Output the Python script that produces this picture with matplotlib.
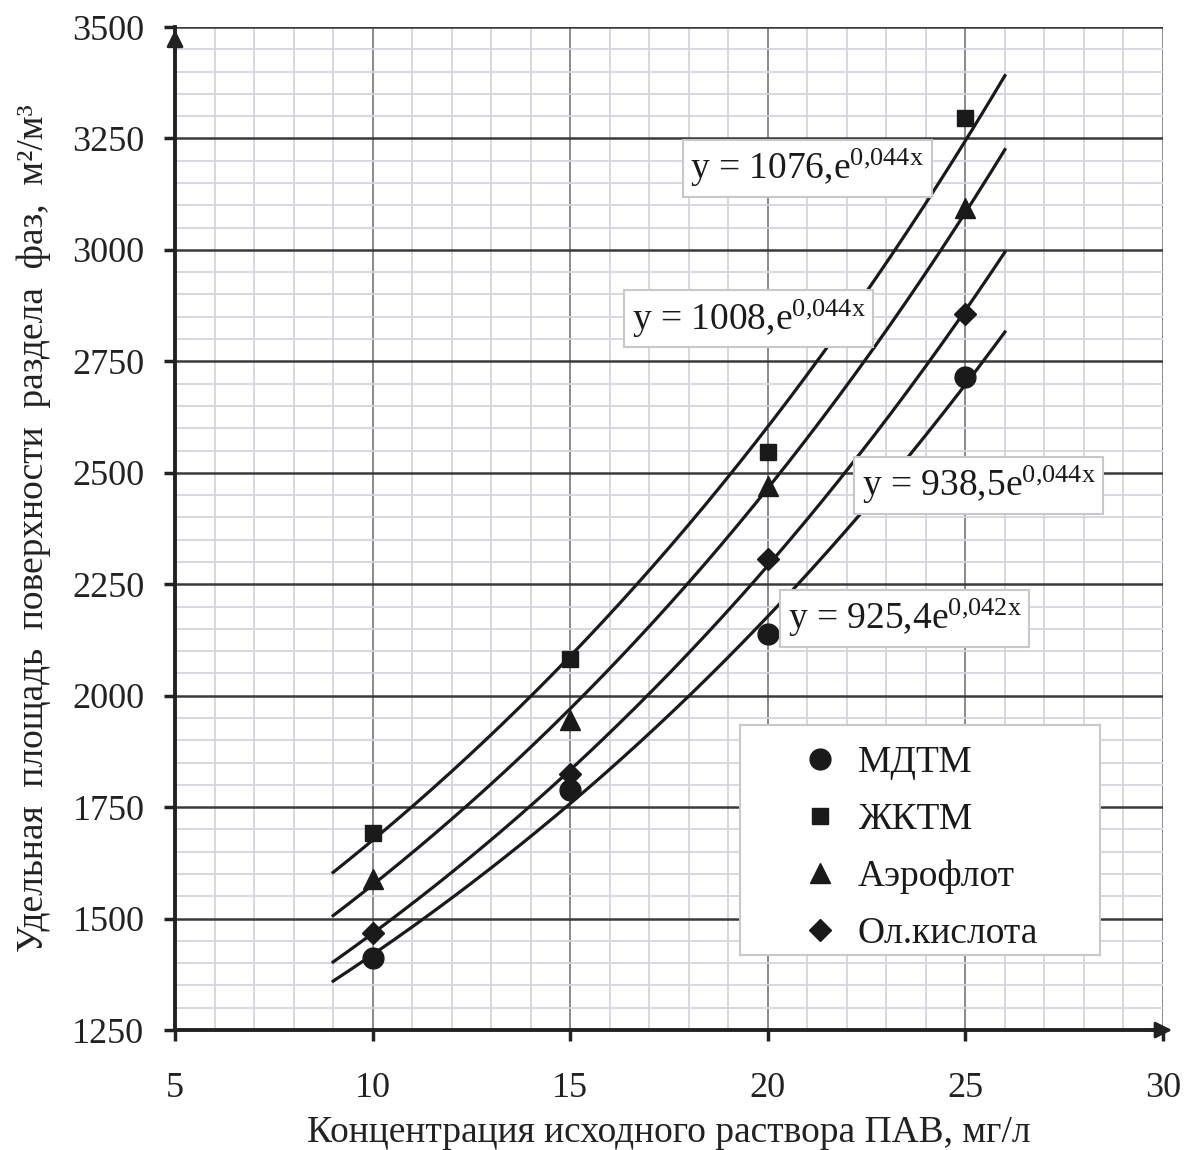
import numpy as np
import matplotlib
matplotlib.use("Agg")
import matplotlib.pyplot as plt
from matplotlib.ticker import MultipleLocator
from matplotlib.patches import Rectangle

plt.rcParams['font.family'] = ['Liberation Serif', 'DejaVu Serif']
plt.rcParams['mathtext.fontset'] = 'custom'
plt.rcParams['mathtext.rm'] = 'Liberation Serif'
plt.rcParams['mathtext.it'] = 'Liberation Serif'

# Data
x = [10, 15, 20, 25]
series_names = ['МДТМ', 'ЖКТМ', 'Аэрофлот', 'Ол.кислота']
mdtm = [1412, 1788, 2138, 2716]
zhktm = [1692, 2082, 2546, 3297]
aeroflot = [1588, 1946, 2470, 3093]
ol_kislota = [1468, 1825, 2307, 2856]
markers = ['o', 's', '^', 'D']
marker_sizes = [15, 12, 15, 11]

# Trend equation labels shown on the chart
fit_labels = ['y = 925,4e$^{\\mathrm{0{,}042x}}$',
              'y = 1076,e$^{\\mathrm{0{,}044x}}$',
              'y = 1008,e$^{\\mathrm{0{,}044x}}$',
              'y = 938,5e$^{\\mathrm{0{,}044x}}$']
label_pos = [(23.47, 2174), (21.0, 3183), (19.52, 2846), (25.34, 2472)]
trend_x_range = (9, 26)

x_ticks = [5, 10, 15, 20, 25, 30]
y_ticks = [1250, 1500, 1750, 2000, 2250, 2500, 2750, 3000, 3250, 3500]

fig = plt.figure(figsize=(11.94, 11.5), dpi=100)
ax = fig.add_axes([0.1466, 0.1043, 0.8274, 0.8722])
ax.set_xlim(5, 30)
ax.set_ylim(1250, 3500)

ax.xaxis.set_minor_locator(MultipleLocator(1))
ax.yaxis.set_minor_locator(MultipleLocator(50))
ax.set_xticks(x_ticks)
ax.set_yticks(y_ticks)

ax.grid(which='minor', color='#d2d5de', lw=1.3, zorder=0)
ax.xaxis.grid(True, which='major', color='#8a8a8a', lw=1.4, zorder=0)
ax.yaxis.grid(True, which='major', color='#3a3a3a', lw=1.8, zorder=0)
ax.set_axisbelow(True)

for s in ['top', 'right']:
    ax.spines[s].set_visible(False)
for s in ['left', 'bottom']:
    ax.spines[s].set_linewidth(2.8)
    ax.spines[s].set_color('#222222')

ax.tick_params(which='major', length=8, width=2.5, colors='#222222', labelsize=26, pad=14)
ax.tick_params(which='minor', length=0)
ax.tick_params(axis='x', pad=22)

# arrows
ax.annotate('', xy=(0, 1.0), xycoords='axes fraction', xytext=(0, 0.97),
            arrowprops=dict(arrowstyle='-|>', color='#222222', lw=2, mutation_scale=25))
ax.annotate('', xy=(1.012, 0), xycoords='axes fraction', xytext=(0.98, 0),
            arrowprops=dict(arrowstyle='-|>', color='#222222', lw=2, mutation_scale=25),
            annotation_clip=False)

all_series = [mdtm, zhktm, aeroflot, ol_kislota]
xs = np.linspace(trend_x_range[0], trend_x_range[1], 200)
for vals, m, ms, name in zip(all_series, markers, marker_sizes, series_names):
    b, lna = np.polyfit(x, np.log(vals), 1)
    ax.plot(xs, np.exp(lna + b * xs), color='#1a1a1a', lw=2.3, zorder=3)
    ax.plot(x, vals, linestyle='none', marker=m, markersize=ms, color='#1a1a1a',
            label=name, zorder=4)

for lbl, (px, py) in zip(fit_labels, label_pos):
    ax.text(px, py, lbl, fontsize=27, ha='center', va='center', zorder=5,
            color='#1a1a1a',
            bbox=dict(boxstyle='square,pad=0.2', fc='white', ec='#c8c8c8', lw=1.5))

# legend box
ax.add_patch(Rectangle((0.572, 0.0748), 0.364, 0.229, transform=ax.transAxes,
                       fc='white', ec='#c8c8c8', lw=1.5, zorder=5))
leg = ax.legend(loc='upper left', bbox_to_anchor=(0.6336, 0.284), fontsize=27,
                frameon=False, handletextpad=0.52, labelspacing=0.6, borderpad=0,
                borderaxespad=0, handlelength=1.0)
leg.set_zorder(6)
for t in leg.get_texts():
    t.set_color('#1a1a1a')

ax.set_xlabel('Концентрация исходного раствора ПАВ, мг/л', fontsize=27, labelpad=8,
              color='#222222')
ax.set_ylabel('Удельная  площадь  поверхности  раздела  фаз,  м²/м³', fontsize=27,
              labelpad=15, color='#222222')

fig.savefig('out.png', dpi=100, facecolor='white')
